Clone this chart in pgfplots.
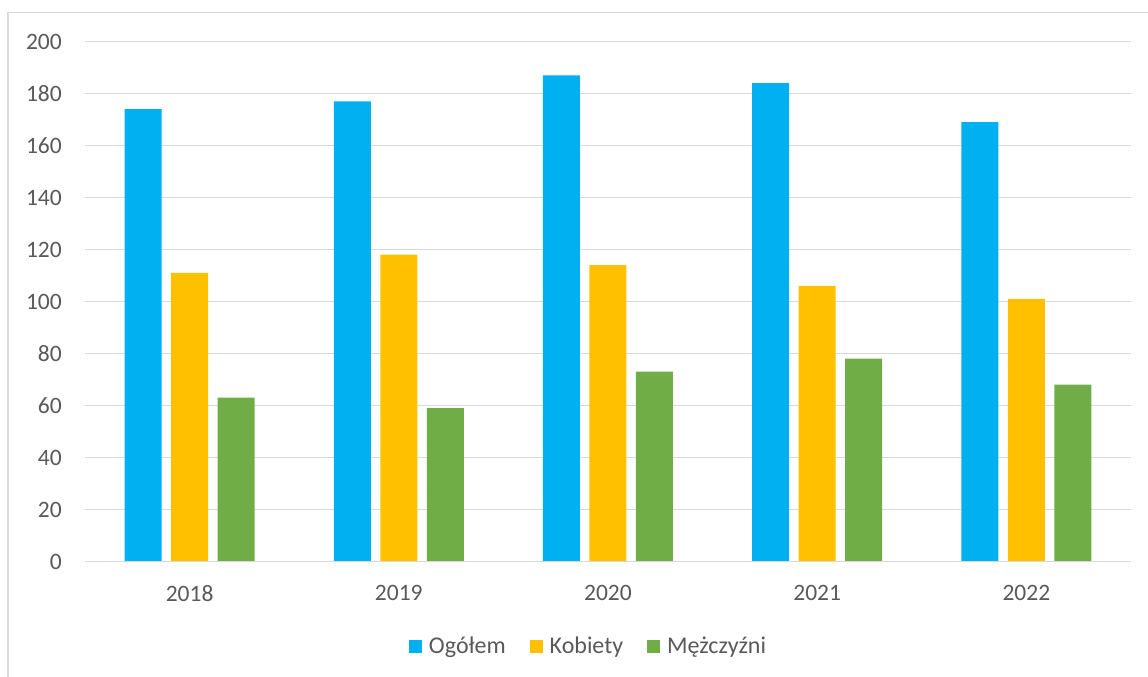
\documentclass[border=0pt]{standalone}
\usepackage{fontspec}
\setmainfont{Carlito}
\usepackage{pgfplots}
\pgfplotsset{compat=1.18}
\definecolor{cBlue}{HTML}{00B0F0}
\definecolor{cYellow}{HTML}{FFC000}
\definecolor{cGreen}{HTML}{70AD47}
\definecolor{gridc}{HTML}{D9D9D9}
\definecolor{txt}{HTML}{595959}
\begin{document}
\begin{tikzpicture}
\path[use as bounding box] (0bp,0bp) rectangle (1148bp,677bp);
\draw[color=gridc, line width=1.2bp] (8bp,0bp) -- (8bp,664.5bp) -- (1148bp,664.5bp);
\begin{axis}[
  at={(85bp,115.5bp)}, anchor=south west,
  scale only axis, width=1046bp, height=520bp,
  ymin=0, ymax=200, xmin=-0.5, xmax=4.5,
  ytick={0,20,...,200},
  xtick={0,1,2,3,4},
  xticklabels={2018,2019,2020,2021,2022},
  ybar=9.5bp, bar width=37bp,
  axis line style={draw=none},
  major tick length=0pt,
  ymajorgrids, grid style={color=gridc, line width=1.4bp},
  tick label style={font=\fontsize{23.5bp}{27bp}\selectfont, text=txt},
  yticklabel style={inner sep=0pt, anchor=east, xshift=-23bp},
  xticklabel style={inner sep=0pt, anchor=north, yshift=-24bp},
  /pgf/number format/assume math mode=true,
  legend style={at={(0.4814,-0.1625)}, anchor=center, draw=none, fill=none,
    legend columns=-1, font=\fontsize{24bp}{28bp}\selectfont, text=txt,
    /tikz/every odd column/.append style={column sep=5bp},
    /tikz/every even column/.append style={column sep=22bp}},
  legend cell align=left,
  legend image code/.code={\fill[#1] (0bp,-6.5bp) rectangle (13bp,6.5bp);},
]
\addplot[fill=cBlue, draw=none] coordinates {(0,174) (1,177) (2,187) (3,184) (4,169)};
\addplot[fill=cYellow, draw=none] coordinates {(0,111) (1,118) (2,114) (3,106) (4,101)};
\addplot[fill=cGreen, draw=none] coordinates {(0,63) (1,59) (2,73) (3,78) (4,68)};
\legend{Ogółem, Kobiety, Mężczyźni}
\draw[color=gridc, line width=1.4bp] (axis cs:-0.5,0) -- (axis cs:4.5,0);
\end{axis}
\end{tikzpicture}
\end{document}
